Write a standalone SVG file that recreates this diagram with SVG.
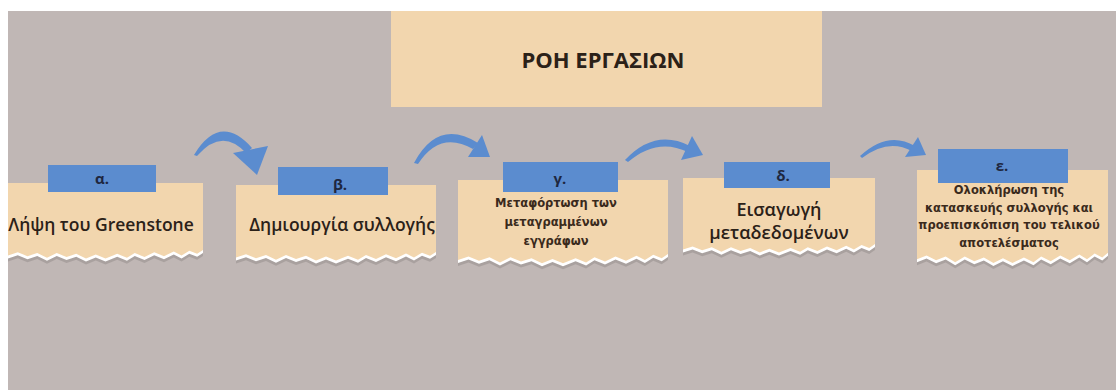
<svg xmlns="http://www.w3.org/2000/svg" width="1116" height="390" viewBox="0 0 1116 390">
<style>
.card{fill:#f2d6ae}
.edge{fill:#ffffff}
.shadow{fill:#8f8784;opacity:0.45}
.tab{fill:#5b8ccf}
.tabt{font-family:"Open Sans","DejaVu Sans",sans-serif;font-weight:700;font-size:15px;fill:#1e2740;text-anchor:middle}
.t{font-family:"Open Sans","DejaVu Sans",sans-serif;font-weight:600;fill:#2b2118;text-anchor:middle}
.s{font-family:"DejaVu Sans","Open Sans",sans-serif;font-weight:700;font-size:11.5px;fill:#3a2a1c;text-anchor:middle}
.arrow{fill:#5b8ccf}
</style>
<defs>
<path id="torn" d="M0,0 H200 V87 L194,92 186,88 178,94 170,89 160,95 150,90 140,96 130,91 122,97 112,92 100,98 90,93 80,98 70,92 60,96 50,91 40,97 30,91 20,95 10,90 0,94 Z"/>
</defs>
<rect x="0" y="0" width="1116" height="390" fill="#ffffff"/>
<rect x="8" y="11" width="1108" height="379" fill="#c0b7b5"/>

<g id="title">
<rect x="391" y="11" width="431" height="96" fill="#f2d6ae"/>
<text class="t" x="603" y="68" font-size="22" style="font-weight:700">ΡΟΗ ΕΡΓΑΣΙΩΝ</text>
</g>

<g id="connectors">
<path class="arrow" d="M194,155 Q220,112 252,148 L246,153 Q222,127 197,156 Z"/>
<path class="arrow" d="M233,153 L268,146 L257,175 Z"/>
<path class="arrow" d="M414,163 Q438,118 478,143 L473,149 Q440,130 418,164 Z"/>
<path class="arrow" d="M468,157 L482,135 L490,157 Z"/>
<path class="arrow" d="M625,160 Q655,128 690,146 L688,152 Q657,137 628,162 Z"/>
<path class="arrow" d="M681,160 L692,136 L703,155 Z"/>
<path class="arrow" d="M860,156 Q888,130 915,146 L912,151 Q888,138 862,158 Z"/>
<path class="arrow" d="M905,157 L918,137 L926,155 Z"/>
</g>

<g id="step-a">
<use href="#torn" class="shadow" transform="translate(8,189) scale(0.975,0.77)"/>
<use href="#torn" class="edge" transform="translate(8,186) scale(0.975,0.77)"/>
<use href="#torn" class="card" transform="translate(8,183) scale(0.975,0.77)"/>
<rect class="tab" x="48" y="165" width="108" height="27"/>
<text class="tabt" x="102" y="184">α.</text>
<text class="t" x="101" y="231" font-size="17.5">Λήψη του Greenstone</text>
</g>

<g id="step-b">
<use href="#torn" class="shadow" transform="translate(236,191) scale(1,0.77)"/>
<use href="#torn" class="edge" transform="translate(236,188) scale(1,0.77)"/>
<use href="#torn" class="card" transform="translate(236,185) scale(1,0.77)"/>
<rect class="tab" x="278" y="167" width="110" height="28"/>
<text class="tabt" x="340" y="190">β.</text>
<text class="t" x="342" y="231" font-size="17.5">Δημιουργία συλλογής</text>
</g>

<g id="step-c">
<use href="#torn" class="shadow" transform="translate(458,186) scale(1.05,0.85)"/>
<use href="#torn" class="edge" transform="translate(458,183) scale(1.05,0.85)"/>
<use href="#torn" class="card" transform="translate(458,180) scale(1.05,0.85)"/>
<rect class="tab" x="503" y="162" width="115" height="30"/>
<text class="tabt" x="560" y="184">γ.</text>
<text class="s" x="556" y="207">Μεταφόρτωση των</text>
<text class="s" x="556" y="226">μεταγραμμένων</text>
<text class="s" x="556" y="245">εγγράφων</text>
</g>

<g id="step-d">
<use href="#torn" class="shadow" transform="translate(683,184) scale(0.96,0.76)"/>
<use href="#torn" class="edge" transform="translate(683,181) scale(0.96,0.76)"/>
<use href="#torn" class="card" transform="translate(683,178) scale(0.96,0.76)"/>
<rect class="tab" x="724" y="162" width="106" height="26"/>
<text class="tabt" x="783" y="181">δ.</text>
<text class="t" x="779" y="216" font-size="18">Εισαγωγή</text>
<text class="t" x="779" y="239" font-size="18">μεταδεδομένων</text>
</g>

<g id="step-e">
<use href="#torn" class="shadow" transform="translate(917,176) scale(0.955,0.95)"/>
<use href="#torn" class="edge" transform="translate(917,173) scale(0.955,0.95)"/>
<use href="#torn" class="card" transform="translate(917,170) scale(0.955,0.95)"/>
<rect class="tab" x="938" y="149" width="130" height="34"/>
<text class="tabt" x="1002" y="171">ε.</text>
<text class="s" x="1009" y="194">Ολοκλήρωση της</text>
<text class="s" x="1009" y="212">κατασκευής συλλογής και</text>
<text class="s" x="1009" y="229">προεπισκόπιση του τελικού</text>
<text class="s" x="1009" y="247">αποτελέσματος</text>
</g>
</svg>
